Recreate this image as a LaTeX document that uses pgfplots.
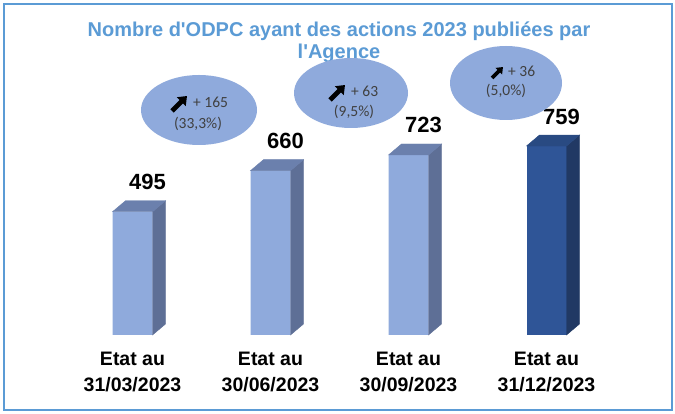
\documentclass[border=0pt]{standalone}
\usepackage{pgfplots}
\pgfplotsset{compat=1.18}
\usepackage{pgfplotstable}
\usetikzlibrary{arrows.meta}
\usepackage{fontspec}
\setmainfont{Liberation Sans}
\newfontfamily\calibri{Carlito}

\definecolor{titleblue}{HTML}{5B9BD5}
\definecolor{lightfront}{HTML}{8FAADC}
\definecolor{lightside}{HTML}{5E6F96}
\definecolor{lighttop}{HTML}{6B80AD}
\definecolor{darkfront}{HTML}{2F5597}
\definecolor{darkside}{HTML}{213964}
\definecolor{darktop}{HTML}{294A82}
\definecolor{bubble}{HTML}{8FAADC}
\definecolor{bubbletext}{HTML}{404040}

\pgfdeclareplotmark{nothing}{}

% side and top faces of the 3d bars, drawn at each data point
\pgfplotsset{
  faces/.style 2 args={
    scatter, only marks, mark=nothing,
    visualization depends on=rawy\as\rawy,
    scatter/@pre marker code/.code={%
      \fill[#1] (20bp,0pt) -- ++(13bp,11bp) -- ++(axis direction cs:0,-\rawy)
        -- ++(-13bp,-11bp) -- cycle;
      \fill[#2] (-20bp,0pt) -- (20bp,0pt) -- ++(13bp,11bp) -- ++(-40bp,0pt) -- cycle;
    },
    scatter/@post marker code/.code={},
  },
  front/.style={
    ybar, bar width=40bp, bar shift=0pt, draw=none, fill=#1,
    nodes near coords,
    nodes near coords style={anchor=base, xshift=15bp, yshift=22bp,
      font=\bfseries\fontsize{22bp}{22bp}\selectfont, text=black},
  },
}

\pgfplotstableread{
x y
0 495
1 660
2 723
}\lightdata
\pgfplotstableread{
x y
3 759
}\darkdata

\begin{document}
\begin{tikzpicture}
\fill[white] (0,0) rectangle (675bp,414bp);
\draw[titleblue, line width=2bp] (4bp,4bp) rectangle (672bp,410bp);

\begin{axis}[
    at={(63.5bp,79bp)}, anchor=south west,
    scale only axis, width=552bp, height=249bp,
    xmin=-0.5, xmax=3.5, ymin=0, ymax=1000,
    clip=false,
    /pgf/number format/assume math mode=true,
    axis line style={draw=none},
    tick style={draw=none},
    ytick=\empty,
    xtick={0,1,2,3},
    xticklabels={{Etat au\\31/03/2023},{Etat au\\30/06/2023},
                 {Etat au\\30/09/2023},{Etat au\\31/12/2023}},
    xticklabel style={anchor=north, inner sep=0pt, yshift=-17bp, align=center,
      font=\bfseries\fontsize{19.5bp}{26bp}\selectfont},
  ]
  \addplot[front=lightfront] table {\lightdata};
  \addplot[faces={lightside}{lighttop}] table {\lightdata};
  \addplot[front=darkfront] table {\darkdata};
  \addplot[faces={darkside}{darktop}] table {\darkdata};
\end{axis}

% title
\node[anchor=base, text=titleblue, font=\bfseries\fontsize{20bp}{20bp}\selectfont]
  at (339bp,377bp) {Nombre d\textquotesingle ODPC ayant des actions 2023 publiées par};
\node[anchor=base, text=titleblue, font=\bfseries\fontsize{20bp}{20bp}\selectfont]
  at (339bp,355bp) {l\textquotesingle Agence};

% growth bubbles
\fill[bubble] (199bp,304bp) ellipse [x radius=58bp, y radius=35bp];
\fill[bubble] (351bp,321bp) ellipse [x radius=57bp, y radius=35bp];
\fill[bubble] (506bp,331bp) ellipse [x radius=56bp, y radius=37bp];

\begin{scope}[arr/.style={black, line width=4.6bp, -{Triangle[width=12bp,length=8bp]}}]
  \draw[arr] (172bp,303bp) -- (187bp,318bp);
  \draw[arr] (330bp,314bp) -- (345bp,329bp);
  \draw[arr, line width=3.6bp, -{Triangle[width=9bp,length=6bp]}] (492bp,336bp) -- (503bp,347bp);
\end{scope}

\begin{scope}[every node/.style={inner sep=0pt, text=bubbletext,
    font=\calibri\fontsize{15.5bp}{15.5bp}\selectfont}]
  \node[anchor=base west] at (193bp,306bp) {+ 165};
  \node[anchor=base] at (198bp,285bp) {(33,3\%)};
  \node[anchor=base west] at (351bp,317bp) {+ 63};
  \node[anchor=base] at (354bp,297bp) {(9,5\%)};
  \node[anchor=base west] at (508bp,337bp) {+ 36};
  \node[anchor=base] at (506bp,318bp) {(5,0\%)};
\end{scope}

\pgfresetboundingbox
\path[use as bounding box] (0,0) rectangle (675bp,414bp);
\end{tikzpicture}
\end{document}
